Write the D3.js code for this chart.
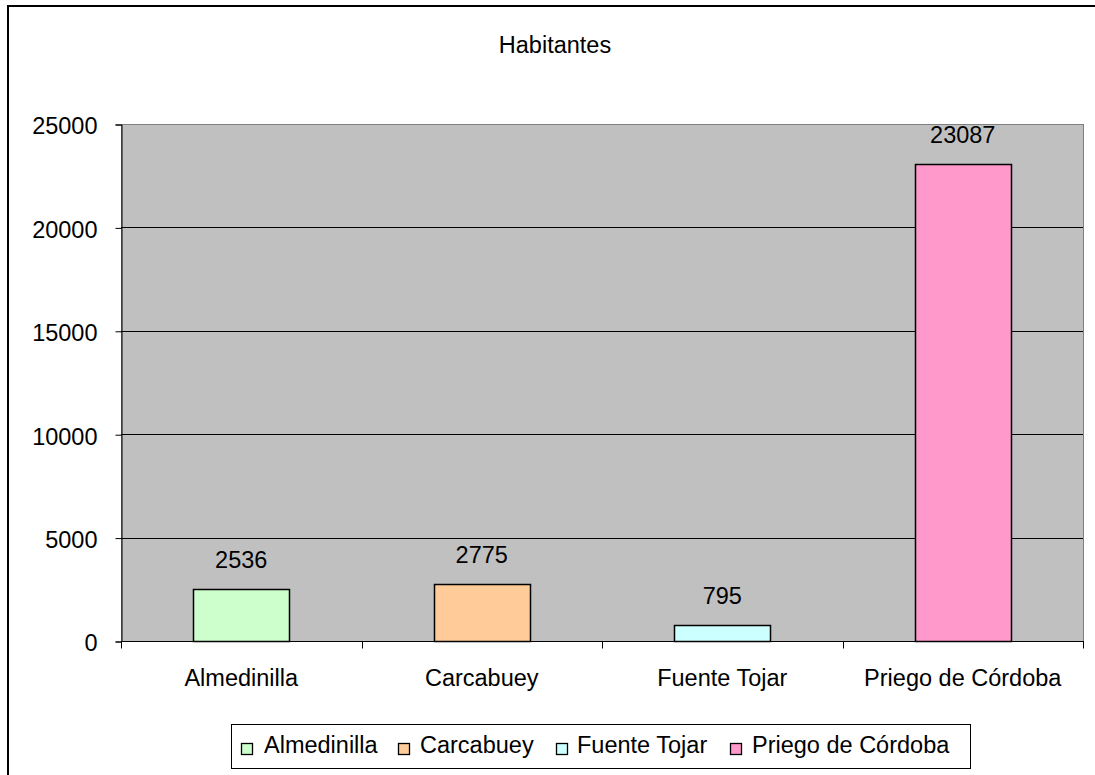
<!DOCTYPE html>
<meta charset="utf-8">
<style>
    body { margin:0; background:#fff; overflow:hidden; }
    svg { display:block; }
    text { font-family:'Liberation Sans', Arial, sans-serif; fill:#000; }
</style>
<body>
<script src="https://d3js.org/d3.v7.min.js"></script>
<script>
var categories = ["Almedinilla", "Carcabuey", "Fuente Tojar", "Priego de Córdoba"];
var values = [2536, 2775, 795, 23087];
var colors = ["#CCFFCC", "#FFCC99", "#CCFFFF", "#FF99CC"];
var yTicks = [0, 5000, 10000, 15000, 20000, 25000];
var title = "Habitantes";

var width = 1095, height = 775;
var plot = {left:121, right:1083, top:124, bottom:641};
var fontSize = "23.5px";

var svg = d3.select("body").append("svg")
    .attr("width", width)
    .attr("height", height);

// chart frame: only top and left edges fall inside the picture
svg.append("path")
    .attr("d", "M8,775V6H1095")
    .attr("fill", "none")
    .attr("stroke", "#000")
    .attr("stroke-width", 2);

svg.append("text")
    .attr("x", 555).attr("y", 53)
    .attr("text-anchor", "middle")
    .style("font-size", fontSize)
    .text(title);

var x = d3.scaleBand()
    .domain(categories)
    .range([plot.left, plot.right])
    .paddingInner(0.6)
    .paddingOuter(0.3);

var xOuter = d3.scaleBand()
    .domain(categories)
    .range([plot.left, plot.right]);

var y = d3.scaleLinear()
    .domain([0, 25000])
    .range([plot.bottom, plot.top]);

// plot background
svg.append("rect")
    .attr("x", plot.left + 0.5).attr("y", plot.top + 0.5)
    .attr("width", plot.right - plot.left)
    .attr("height", plot.bottom - plot.top)
    .attr("fill", "#C0C0C0")
    .attr("stroke", "#808080")
    .attr("stroke-width", 1);

// gridlines
svg.append("g")
    .selectAll("line")
    .data(yTicks.filter(function(d) { return d > 0 && d < 25000; }))
    .join("line")
    .attr("x1", plot.left).attr("x2", plot.right)
    .attr("y1", function(d) { return Math.round(y(d)) + 0.5; })
    .attr("y2", function(d) { return Math.round(y(d)) + 0.5; })
    .attr("stroke", "#000")
    .attr("stroke-width", 1);

// y axis
var yAxis = svg.append("g")
    .attr("transform", "translate(" + (plot.left + 0.5) + ",0.5)")
    .call(d3.axisLeft(y).tickValues(yTicks).tickSize(6).tickPadding(18).tickFormat(d3.format("d")));
yAxis.select(".domain").attr("stroke", "#000");
yAxis.selectAll(".tick line").attr("stroke", "#000");
yAxis.selectAll("text")
    .attr("font-family", null)
    .style("font-size", fontSize)
    .attr("dy", "0.4em");

// x axis
var xAxis = svg.append("g")
    .attr("transform", "translate(0," + (plot.bottom + 0.5) + ")");
xAxis.append("line")
    .attr("x1", plot.left).attr("x2", plot.right + 1)
    .attr("stroke", "#000");
xAxis.selectAll("line.tk")
    .data(categories.concat(["end"]))
    .join("line")
    .attr("class", "tk")
    .attr("x1", function(d, i) { return Math.round(i < categories.length ? xOuter(d) : plot.right) + 0.5; })
    .attr("x2", function(d, i) { return Math.round(i < categories.length ? xOuter(d) : plot.right) + 0.5; })
    .attr("y1", 0).attr("y2", 7)
    .attr("stroke", "#000");
xAxis.selectAll("text")
    .data(categories)
    .join("text")
    .attr("x", function(d) { return xOuter(d) + xOuter.bandwidth() / 2; })
    .attr("y", 44)
    .attr("text-anchor", "middle")
    .style("font-size", fontSize)
    .text(function(d) { return d; });

// bars
svg.append("g")
    .selectAll("rect")
    .data(values)
    .join("rect")
    .attr("x", function(d, i) { return Math.round(x(categories[i])) + 0.5; })
    .attr("y", function(d) { return Math.round(y(d)) + 0.5; })
    .attr("width", Math.round(x.bandwidth()))
    .attr("height", function(d) { return Math.round(y(0)) - Math.round(y(d)); })
    .attr("fill", function(d, i) { return colors[i]; })
    .attr("stroke", "#000")
    .attr("stroke-width", 1.5);

// value labels
svg.append("g")
    .selectAll("text")
    .data(values)
    .join("text")
    .attr("x", function(d, i) { return x(categories[i]) + x.bandwidth() / 2; })
    .attr("y", function(d) { return y(d) - 21; })
    .attr("text-anchor", "middle")
    .style("font-size", fontSize)
    .text(function(d) { return d; });

// legend
var legend = svg.append("g");
legend.append("rect")
    .attr("x", 231.5).attr("y", 724.5)
    .attr("width", 739).attr("height", 44)
    .attr("fill", "#fff")
    .attr("stroke", "#000");

var squareX = [241, 398, 556, 730];
var labelX = [264, 420, 577, 752];
var items = legend.selectAll("g.item")
    .data(categories)
    .join("g")
    .attr("class", "item");
items.append("rect")
    .attr("x", function(d, i) { return squareX[i] + 0.5; })
    .attr("y", 743.5)
    .attr("width", 11).attr("height", 11)
    .attr("fill", function(d, i) { return colors[i]; })
    .attr("stroke", "#000")
    .attr("stroke-width", 1.3);
items.append("text")
    .attr("x", function(d, i) { return labelX[i]; })
    .attr("y", 753)
    .style("font-size", fontSize)
    .text(function(d) { return d; });
</script>
</body>
